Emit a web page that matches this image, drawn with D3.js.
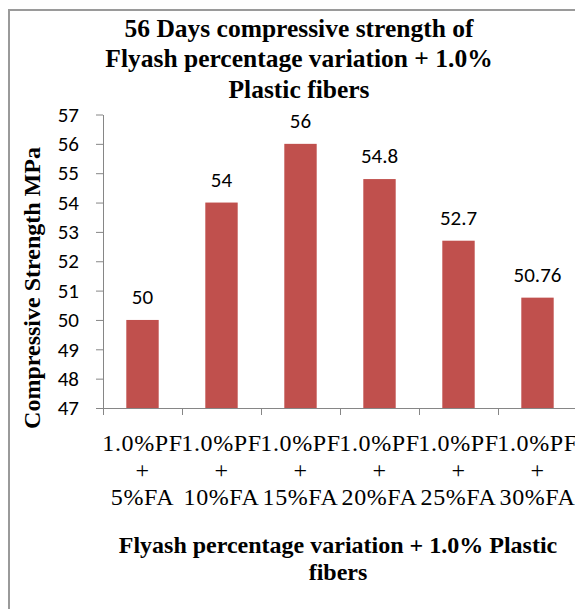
<!DOCTYPE html>
<html>
<head>
<meta charset="utf-8">
<script src="https://cdn.jsdelivr.net/npm/d3@7"></script>
<style>
  body { margin: 0; background: #fff; }
  svg { display: block; }
</style>
</head>
<body>
<div class="chart"></div>
<script>
// data
var categories = ["5%FA", "10%FA", "15%FA", "20%FA", "25%FA", "30%FA"];
var values = [50, 54, 56, 54.8, 52.7, 50.76];
var valueLabels = ["50", "54", "56", "54.8", "52.7", "50.76"];
var yTicks = [47, 48, 49, 50, 51, 52, 53, 54, 55, 56, 57];
var titleLines = ["56 Days compressive strength of", "Flyash percentage variation + 1.0%", "Plastic fibers"];
var xTitleLines = ["Flyash percentage variation + 1.0% Plastic", "fibers"];
var yTitle = "Compressive Strength MPa";

var W = 575, H = 609;
var plot = {left: 103, right: 577, top: 114.5, bottom: 408};
var serif = "'Liberation Serif', 'Times New Roman', serif";
var sans = "Carlito, Calibri, Lato, sans-serif";
var axisColor = "#868686";

var svg = d3.select(".chart").append("svg")
    .attr("width", W)
    .attr("height", H);

// chart frame (cut off at right and bottom)
svg.append("rect")
    .attr("x", 9).attr("y", 10)
    .attr("width", W + 20).attr("height", H + 20)
    .style("fill", "white")
    .style("stroke", "#9a9a9a")
    .style("stroke-width", 2);

var x = d3.scaleBand()
    .domain(categories)
    .range([plot.left, plot.right])
    .paddingInner(0.59)
    .paddingOuter(0.295);

var xEdge = d3.scaleLinear()
    .domain([0, categories.length])
    .range([plot.left, plot.right]);

var y = d3.scaleLinear()
    .domain([47, 57])
    .range([plot.bottom, plot.top]);

// bars
svg.append("g").selectAll("rect").data(values).enter()
    .append("rect")
    .attr("x", function(d, i) { return x(categories[i]); })
    .attr("y", function(d) { return y(d); })
    .attr("width", x.bandwidth())
    .attr("height", function(d) { return plot.bottom - y(d); })
    .style("fill", "#c0504d");

// value labels
svg.append("g").selectAll("text").data(values).enter()
    .append("text")
    .attr("x", function(d, i) { return x(categories[i]) + x.bandwidth() / 2; })
    .attr("y", function(d) { return y(d) - 16; })
    .attr("text-anchor", "middle")
    .style("font-family", sans)
    .style("font-size", "21px")
    .style("fill", "#000")
    .text(function(d, i) { return valueLabels[i]; });

// y axis
var yAxis = svg.append("g")
    .attr("transform", "translate(" + plot.left + ",0)")
    .call(d3.axisLeft(y).tickValues(yTicks).tickSize(7).tickPadding(17).tickSizeOuter(0));
yAxis.selectAll("line, path").style("stroke", axisColor);
yAxis.selectAll("text")
    .style("font-family", sans)
    .style("font-size", "21px")
    .style("fill", "#000");

// x axis, ticks between categories
var xAxis = svg.append("g")
    .attr("transform", "translate(0," + plot.bottom + ")")
    .call(d3.axisBottom(xEdge).tickValues(d3.range(categories.length + 1))
        .tickSize(7).tickSizeOuter(0).tickFormat(""));
xAxis.selectAll("line, path").style("stroke", axisColor);

// category labels
var catLabel = svg.append("g").selectAll("text").data(categories).enter()
    .append("text")
    .attr("text-anchor", "middle")
    .style("font-family", serif)
    .style("font-size", "24px")
    .style("letter-spacing", "0.6px")
    .style("fill", "#000");
catLabel.each(function(d) {
    var t = d3.select(this);
    var cx = x(d) + x.bandwidth() / 2;
    ["1.0%PF", "+", d].forEach(function(line, k) {
        t.append("tspan").attr("x", cx).attr("y", 451 + k * 27).text(line);
    });
});

// title
svg.append("g").selectAll("text").data(titleLines).enter()
    .append("text")
    .attr("x", 299)
    .attr("y", function(d, i) { return 36.5 + i * 30.6; })
    .attr("text-anchor", "middle")
    .style("font-family", serif)
    .style("font-weight", "bold")
    .style("font-size", "25.5px")
    .text(function(d) { return d; });

// x axis title
svg.append("g").selectAll("text").data(xTitleLines).enter()
    .append("text")
    .attr("x", 338)
    .attr("y", function(d, i) { return 553 + i * 27; })
    .attr("text-anchor", "middle")
    .style("font-family", serif)
    .style("font-weight", "bold")
    .style("font-size", "24px")
    .text(function(d) { return d; });

// y axis title
svg.append("text")
    .attr("transform", "translate(40,288) rotate(-90)")
    .attr("text-anchor", "middle")
    .style("font-family", serif)
    .style("font-weight", "bold")
    .style("font-size", "24px")
    .text(yTitle);
</script>
</body>
</html>
